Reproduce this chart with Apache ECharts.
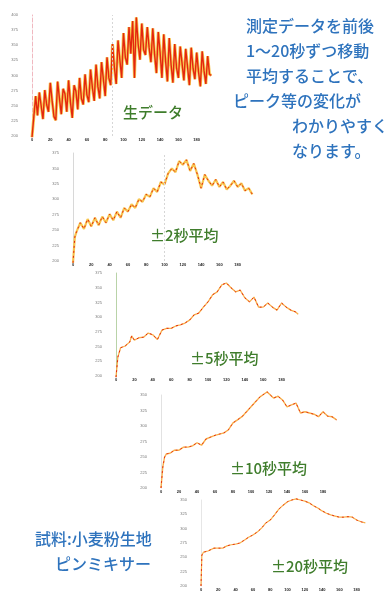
<!DOCTYPE html>
<html>
<head>
<meta charset="utf-8">
<script src="https://cdn.jsdelivr.net/npm/echarts@6/dist/echarts.min.js"></script>
<style>
  html, body { margin: 0; padding: 0; background: #ffffff; }
  #chart { width: 389px; height: 592px; }
</style>
</head>
<body>
<div id="chart"></div>
<script>
// Raw measurement
const rawTime = [0,2,4,6,8,10,12,14,16,18,20,22,24,26,28,30,32,34,36,38,40,42,44,46,48,50,52,54,56,58,60,62,64,66,68,70,72,74,76,78,80,82,84,86,88,90,92,94,96,98,100,102,104,106,108,110,112,114,116,118,120,122,124,126,128,130,132,134,136,138,140,142,144,146,148,150,152,154,156,158,160,162,164,166,168,170,172,174,176,178,180,182,184,186,188,190,192,194,196];
const rawValues = [198,232,266,234,272,250,228,276,252,240,288,258,232,226,290,262,236,278,270,240,292,256,230,284,274,244,296,262,252,302,268,256,310,280,258,318,282,262,322,294,266,330,296,284,352,314,286,358,326,296,370,330,318,380,336,390,296,396,352,326,386,342,334,380,346,322,378,334,304,372,338,296,368,324,290,362,318,288,352,312,296,348,320,292,344,314,284,346,312,294,338,306,282,340,308,286,332,302,300];

// ±2 s moving average
const avg2Time = [0,2,4,8,12,16,20,24,28,32,36,40,44,48,52,56,60,64,68,72,76,80,84,88,92,96,100,104,108,112,116,120,124,128,132,136,140,144,148,152,156,160,164,168,172,176,180,184,188,192,196];
const avg2Values = [197,239,248,262,252,268,256,270,258,272,262,276,266,280,270,286,280,292,286,300,296,308,304,318,312,328,324,342,350,344,362,356,364,346,358,340,318,340,330,322,332,320,328,316,322,330,320,326,314,318,308];

// ±5 s moving average
const avg5Time = [0,2,5,10,15,17,20,25,30,35,40,45,50,55,60,65,70,75,80,85,90,95,100,105,110,115,120,125,130,135,140,145,150,155,160,165,170,175,180,185,190,195,198];
const avg5Values = [198,232,248,251,258,268,261,265,266,273,270,262,278,281,281,285,287,290,295,304,307,317,326,338,343,355,358,350,343,346,333,326,334,317,317,324,317,312,324,317,312,309,305];

// ±10 s moving average
const avg10Time = [0,2,4,6,10,15,20,25,30,35,40,45,50,55,60,65,70,75,80,85,90,95,100,105,110,115,118,120,125,130,135,140,145,150,155,160,165,170,175,180,185,190,195];
const avg10Values = [200,234,250,255,256,261,261,266,266,268,273,269,279,282,285,287,289,294,305,310,315,323,331,339,347,352,355,353,345,348,342,331,334,337,321,323,321,319,315,323,316,315,310];

// ±20 s moving average
const avg20Time = [0,1,3,8,15,20,25,30,35,40,45,50,55,60,65,70,75,80,85,90,95,100,105,110,115,120,125,130,135,140,145,150,155,160,165,170,175,180,185,190];
const avg20Values = [200,254,259,261,266,266,266,270,272,273,275,280,285,289,294,301,310,315,324,334,341,347,350,352,350,348,345,340,336,331,327,324,322,320,320,321,320,315,312,310];

// Panel captions
const panelTitles = ['生データ', '±2秒平均', '±5秒平均', '±10秒平均', '±20秒平均'];
const noteLines = ['測定データを前後', '1～20秒ずつ移動', '平均することで、', 'ピーク等の変化が', 'わかりやすく', 'なります。'];
const sampleLines = ['試料:小麦粉生地', 'ピンミキサー'];

// Y ranges of each panel
const yRanges = [
  { min: 200, max: 400 },
  { min: 200, max: 375 },
  { min: 200, max: 375 },
  { min: 200, max: 350 },
  { min: 200, max: 350 }
];

const zip = (t, v) => t.map((x, i) => [x, v[i]]);

// Staggered panel boxes
const boxes = [
  { left: 32,  top: 15,  width: 183, height: 121, axisColor: '#f0b8c0' },
  { left: 73,  top: 153, width: 183, height: 108, axisColor: '#d8d8d8' },
  { left: 116, top: 273, width: 184, height: 103, axisColor: '#b9d3a8' },
  { left: 161, top: 395, width: 180, height: 93,  axisColor: '#e2e2e2' },
  { left: 201, top: 500, width: 173, height: 86,  axisColor: '#e6e6e6' }
];

const ORANGE = '#f7a93a';
const YELLOW = '#f6bf3c';
const RED = '#e4260f';
const LABEL_FONT = '"Noto Sans CJK JP", "Noto Sans", sans-serif';

const grids = boxes.map(b => ({ left: b.left, top: b.top, width: b.width, height: b.height }));
const xAxes = boxes.map((b, i) => ({
  type: 'value', gridIndex: i, min: 0, max: 200, interval: 20,
  axisLine: { show: false }, axisTick: { show: false }, splitLine: { show: false },
  axisLabel: { fontSize: 4, color: '#222', margin: 2, showMaxLabel: false, fontWeight: 'bold' }
}));
const yAxes = boxes.map((b, i) => ({
  type: 'value', gridIndex: i, min: yRanges[i].min, max: yRanges[i].max, interval: 25,
  axisLine: { show: true, lineStyle: { color: b.axisColor, width: 1, type: i === 0 ? 'dashed' : 'solid' } },
  axisTick: { show: false }, splitLine: { show: false },
  axisLabel: { fontSize: 4, color: '#777', margin: 14 }
}));

function pair(idx, time, values, underColor, wideW, thinW, dashed, extra) {
  const under = {
    type: 'line', xAxisIndex: idx, yAxisIndex: idx, data: zip(time, values),
    showSymbol: false, clip: false, silent: true,
    lineStyle: { color: underColor, width: wideW, opacity: 0.9 }
  };
  const over = {
    type: 'line', xAxisIndex: idx, yAxisIndex: idx, data: zip(time, values),
    showSymbol: false, clip: false, silent: true,
    lineStyle: { color: RED, width: thinW, type: dashed ? [2, 3] : 'solid' }
  };
  if (extra) under.markLine = extra;
  return [under, over];
}

const guide = x => ({
  silent: true, symbol: 'none', label: { show: false },
  lineStyle: { color: '#d6d6d6', type: [2, 2], width: 1 },
  data: [{ xAxis: x }]
});

const series = [
  ...pair(0, rawTime, rawValues, YELLOW, 3, 1.4, false, guide(88)),
  ...pair(1, avg2Time, avg2Values, YELLOW, 2.2, 1, true, guide(100)),
  ...pair(2, avg5Time, avg5Values, ORANGE, 1.3, 1, true),
  ...pair(3, avg10Time, avg10Values, ORANGE, 1.4, 0.9, true),
  ...pair(4, avg20Time, avg20Values, ORANGE, 1.2, 0.9, true)
];

// Caption positions
const titlePos = [[123, 105], [150, 228], [190, 351], [230, 461], [271, 559]];
const graphics = panelTitles.map((t, i) => ({
  type: 'text', x: titlePos[i][0], y: titlePos[i][1], z: 100,
  style: { text: t, fill: '#3f7d2c', font: '500 15px ' + LABEL_FONT }
}));
const noteX = [246, 246, 246, 233, 292, 292];
noteLines.forEach((t, i) => graphics.push({
  type: 'text', x: noteX[i], y: 18 + i * 25, z: 100,
  style: { text: t, fill: '#2e73bd', font: '500 16px ' + LABEL_FONT }
}));
const sampleX = [35, 55];
sampleLines.forEach((t, i) => graphics.push({
  type: 'text', x: sampleX[i], y: 531 + i * 25, z: 100,
  style: { text: t, fill: '#2e73bd', font: '500 16px ' + LABEL_FONT }
}));

const chart = echarts.init(document.getElementById('chart'), null, { renderer: 'canvas' });
chart.setOption({
  animation: false,
  backgroundColor: '#ffffff',
  grid: grids,
  xAxis: xAxes,
  yAxis: yAxes,
  series: series,
  graphic: graphics
});
</script>
</body>
</html>
